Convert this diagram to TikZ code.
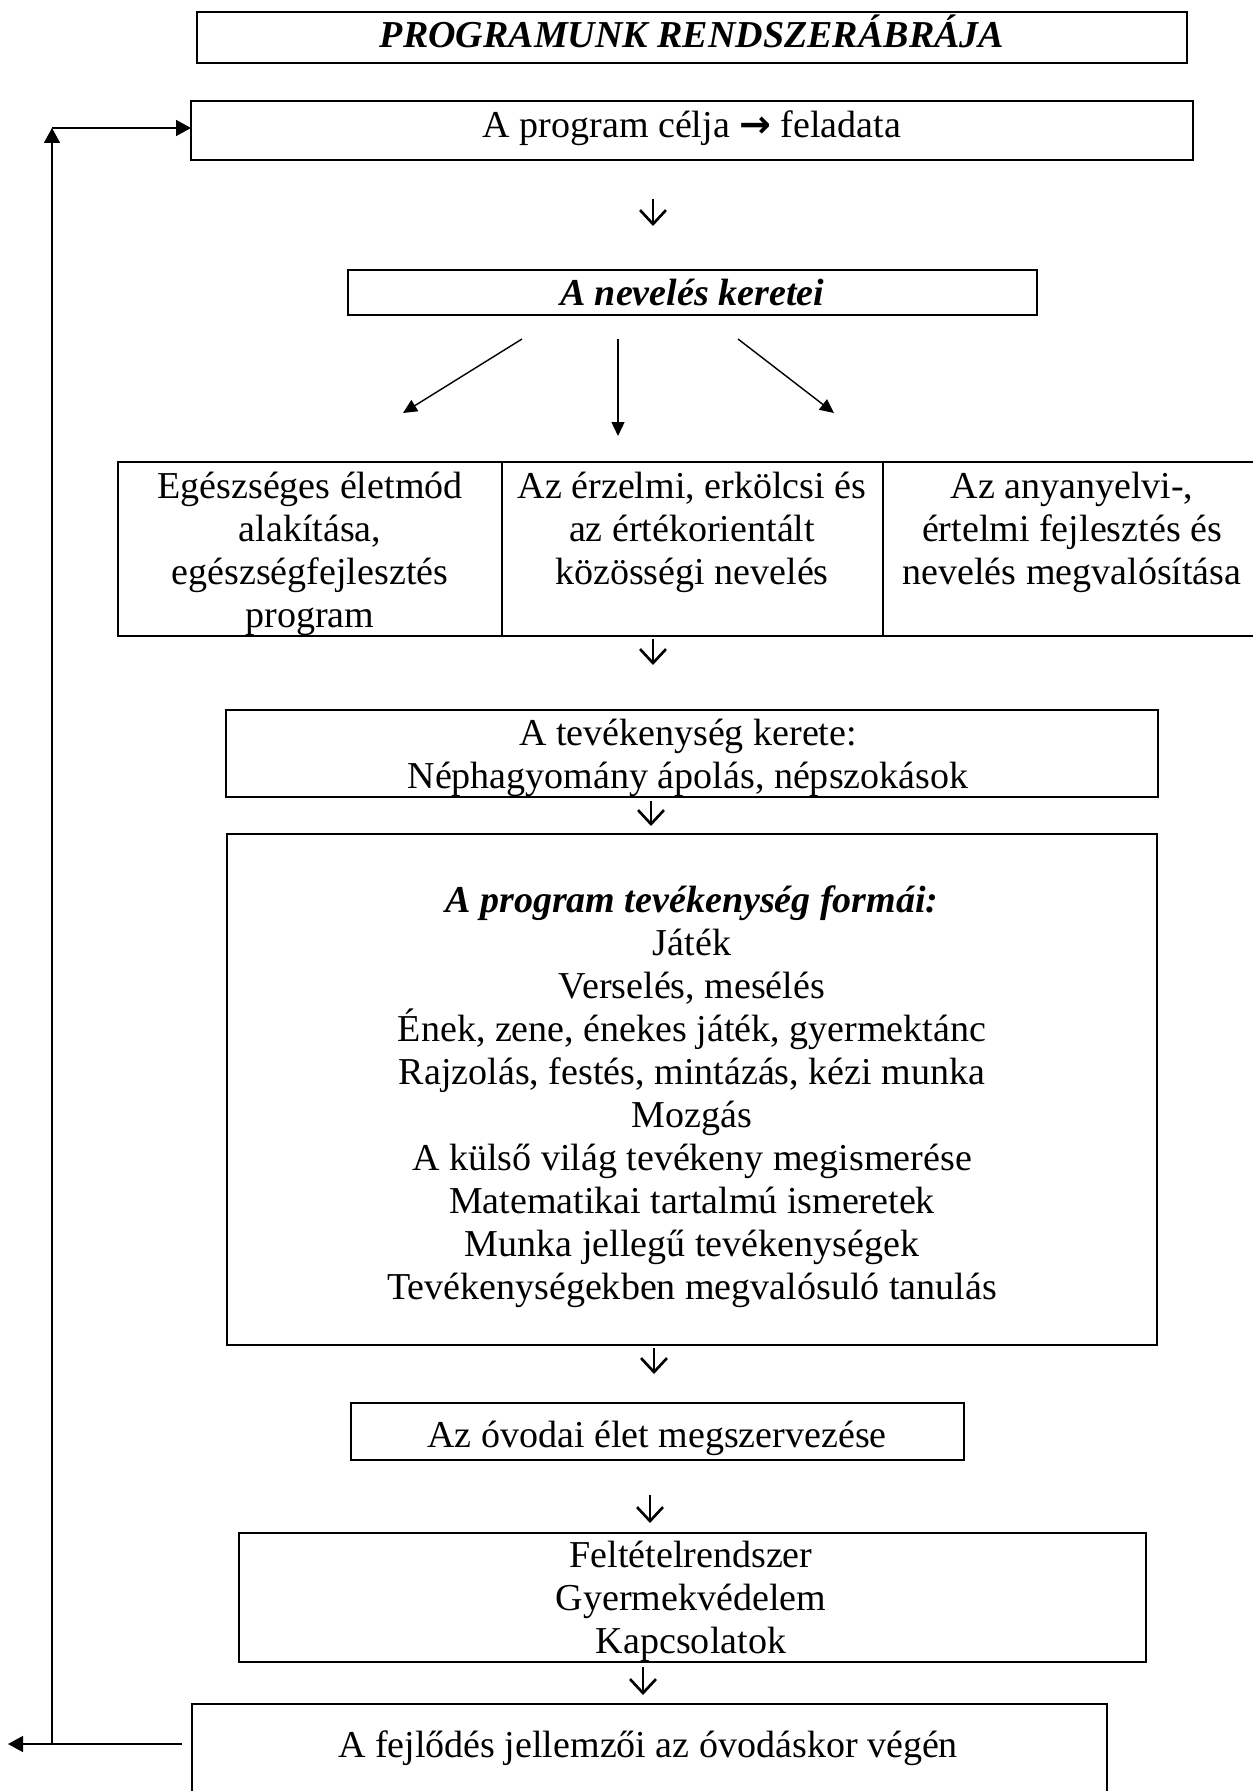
\documentclass[tikz,border=0pt]{standalone}
\usepackage{fontspec}
\setmainfont{Liberation Serif}
\newfontfamily\dejavu{DejaVu Sans}
\usetikzlibrary{arrows.meta}
\tikzset{
  txt/.style={font=\fontsize{10.82}{12.23}\selectfont, inner sep=0pt, outer sep=0pt, anchor=base, align=center},
  box/.style={draw, line width=0.5pt, rectangle, inner sep=0pt, outer sep=0pt},
  feed/.style={line width=0.45pt, -{Triangle[length=1.5mm,width=1.6mm]}},
  fan/.style={line width=0.4pt, -{Triangle[length=1.4mm,width=1.3mm]}},
  down/.style={line width=0.75pt, -{Straight Barb[length=1.4mm,width=2.6mm]}},
}
\begin{document}
\begin{tikzpicture}[x=0.1mm,y=-0.1mm]
\clip (0,0) rectangle (1253,1791);
\fill[white] (0,0) rectangle (1253,1791);

% boxes
\node[box, minimum width=99.0mm, minimum height=5.1mm] (title) at (692,37.5) {};
\node[box, minimum width=100.2mm, minimum height=5.9mm] (cel) at (692,130.5) {};
\node[box, minimum width=68.9mm, minimum height=4.5mm] (nev) at (692.5,292.5) {};
\node[box, line width=0.4pt, minimum width=114.4mm, minimum height=17.4mm] (table) at (690,549) {};
\node[box, minimum width=93.2mm, minimum height=8.7mm] (tev) at (692,753.5) {};
\node[box, minimum width=93.0mm, minimum height=51.1mm] (form) at (692,1089.5) {};
\node[box, line width=0.4pt, minimum width=61.3mm, minimum height=5.7mm] (ovo) at (657.5,1431.5) {};
\node[box, minimum width=90.7mm, minimum height=12.9mm] (felt) at (692.5,1597.5) {};
\node[box, line width=0.4pt, minimum width=91.5mm, minimum height=10.6mm] (fejl) at (649.5,1757) {};

% table dividers and thicker bottom rule
\draw[line width=0.4pt] (502,462) -- (502,636);
\draw[line width=0.4pt] (883,462) -- (883,636);
\draw[line width=0.8pt] (table.south west) -- (table.south east);

% texts (multi-line nodes: base = baseline of the last line)
\node[txt] (ttitle) at (692,48) {\bfseries\itshape PROGRAMUNK RENDSZERÁBRÁJA};
\node[txt] (tcel) at (692,138) {A program célja {\dejavu\bfseries →} feladata};
\node[txt] (tnev) at (692,305) {\bfseries\itshape A nevelés keretei};
\node[txt] (tc1) at (310,627) {Egészséges életmód\\alakítása,\\egészségfejlesztés\\program};
\node[txt] (tc2) at (692,584) {Az érzelmi, erkölcsi és\\az értékorientált\\közösségi nevelés};
\node[txt] (tc3) at (1072,584) {Az anyanyelvi-,\\értelmi fejlesztés és\\nevelés megvalósítása};
\node[txt] (ttev) at (688,788) {A tevékenység kerete:\\Néphagyomány ápolás, népszokások};
\node[txt] (tform) at (692,1299) {{\bfseries\itshape A program tevékenység formái:}\\Játék\\Verselés, mesélés\\Ének, zene, énekes játék, gyermektánc\\Rajzolás, festés, mintázás, kézi munka\\Mozgás\\A külső világ tevékeny megismerése\\Matematikai tartalmú ismeretek\\Munka jellegű tevékenységek\\Tevékenységekben megvalósuló tanulás};
\node[txt] (tovo) at (657,1447) {Az óvodai élet megszervezése};
\node[txt] (tfelt) at (691,1653) {Feltételrendszer\\Gyermekvédelem\\Kapcsolatok};
\node[txt] (tfejl) at (648,1757) {A fejlődés jellemzői az óvodáskor végén};

% small down arrows
\coordinate (d1a) at (653,199);  \coordinate (d1b) at (653,226);
\coordinate (d2a) at (653,639);  \coordinate (d2b) at (653,665);
\coordinate (d3a) at (651,801);  \coordinate (d3b) at (651,826);
\coordinate (d4a) at (654,1348); \coordinate (d4b) at (654,1374);
\coordinate (d5a) at (650,1495); \coordinate (d5b) at (650,1523);
\coordinate (d6a) at (643,1667); \coordinate (d6b) at (643,1695);
\foreach \i in {1,...,6} { \draw[down] (d\i a) -- (d\i b); }

% fan arrows
\coordinate (fl0) at (522,339); \coordinate (fl1) at (403,413);
\coordinate (fm0) at (618,339); \coordinate (fm1) at (618,436);
\coordinate (fr0) at (738,339); \coordinate (fr1) at (834,413);
\draw[fan] (fl0) -- (fl1);
\draw[fan] (fm0) -- (fm1);
\draw[fan] (fr0) -- (fr1);

% feedback loop
\coordinate (fbstart) at (182,1744);
\coordinate (fbend) at (8,1744);
\coordinate (fbcorner) at (52,1744);
\coordinate (fbtop) at (52,128);
\draw[feed] (fbstart) -- (fbend);
\draw[feed] (fbcorner) -- (fbtop);
\draw[feed] (fbtop) -- (fbtop -| cel.west);
\end{tikzpicture}
\end{document}
